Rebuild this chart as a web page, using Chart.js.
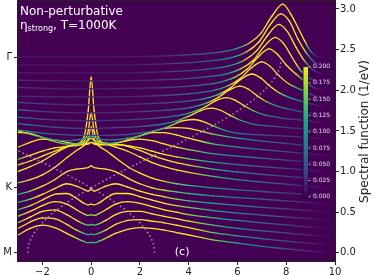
<!DOCTYPE html>
<html>
<head>
<meta charset="utf-8">
<script src="https://cdn.jsdelivr.net/npm/chart.js@4.4.1/dist/chart.umd.min.js"></script>
<style>
  html, body { margin: 0; padding: 0; background: #fff; }
  canvas { display: block; }
</style>
</head>
<body>
<canvas id="chart" width="374" height="275"></canvas>
<script>
// k-path offsets (M -> K -> Gamma), one curve per k point
const kOffsets = [0, 0.1, 0.2, 0.3, 0.4, 0.5, 0.6, 0.7, 0.8, 0.9, 1.0, 1.1, 1.2,
  1.3, 1.4, 1.5, 1.6, 1.7, 1.8, 1.9, 2.0, 2.1, 2.2, 2.3, 2.4];
const kTicks = [0, 0.8, 2.4];
const kLabels = ['M', 'K', 'Γ'];
// bare band energy (dotted), read per k point
const bareBand = [2.6, 2.56, 2.42, 2.2, 1.9, 1.53, 1.08, 0.57, 0, 0.61, 1.25, 1.92, 2.6,
  3.28, 3.95, 4.59, 5.2, 5.77, 6.28, 6.73, 7.1, 7.4, 7.62, 7.76, 7.8];
const energyTicks = [-2, 0, 2, 4, 6, 8, 10];
const specTicks = [0, 0.5, 1, 1.5, 2, 2.5, 3];
const cbarTicks = [0, 0.025, 0.05, 0.075, 0.1, 0.125, 0.15, 0.175, 0.2];

// spectral function above each offset, curves 0..13 on a shared energy grid
const lowGrid = [-3, -2.5, -2, -1.5, -1, -0.6, -0.3, -0.12, 0, 0.12, 0.3, 0.6, 1, 1.5, 2, 2.5, 3, 3.5, 4, 5, 6, 7, 8, 8.5, 9, 9.5, 10];
const lowCurves = [
  [.22, .30, .34, .31, .24, .18, .14, .125, .13, .125, .14, .18, .24, .29, .31, .30, .28, .25, .22, .16, .12, .08, .05, .035, .02, .008, 0],
  [.20, .28, .33, .32, .25, .18, .14, .125, .13, .125, .14, .18, .25, .30, .31, .29, .27, .24, .21, .15, .11, .075, .045, .03, .018, .007, 0],
  [.17, .24, .31, .33, .27, .20, .155, .14, .15, .14, .155, .20, .27, .31, .31, .28, .25, .22, .19, .14, .10, .07, .045, .03, .018, .007, 0],
  [.15, .21, .28, .33, .30, .23, .18, .16, .17, .16, .18, .23, .30, .33, .31, .27, .23, .20, .17, .13, .10, .07, .045, .03, .018, .007, 0],
  [.13, .18, .25, .32, .33, .27, .21, .19, .20, .19, .21, .27, .33, .33, .29, .25, .21, .18, .16, .12, .09, .065, .04, .03, .018, .007, 0],
  [.12, .16, .22, .29, .35, .32, .28, .26, .28, .26, .28, .32, .35, .31, .26, .22, .19, .16, .14, .11, .085, .06, .04, .028, .016, .006, 0],
  [.12, .16, .22, .30, .40, .43, .44, .45, .47, .45, .44, .43, .40, .32, .25, .20, .17, .15, .13, .10, .08, .06, .04, .028, .016, .006, 0],
  [.16, .20, .26, .35, .47, .56, .62, .70, .85, .70, .62, .56, .47, .36, .28, .22, .18, .15, .13, .10, .075, .055, .035, .025, .015, .005, 0],
  [.20, .26, .33, .42, .50, .54, .62, .95, 1.36, .95, .62, .54, .50, .45, .38, .31, .26, .22, .19, .14, .10, .07, .045, .03, .015, .005, 0],
  [.18, .23, .29, .35, .41, .44, .47, .60, .82, .60, .47, .45, .44, .41, .36, .30, .25, .21, .18, .13, .095, .065, .04, .03, .015, .005, 0],
  [.15, .20, .25, .29, .31, .32, .33, .34, .36, .34, .33, .33, .33, .32, .29, .25, .21, .18, .155, .115, .085, .06, .04, .028, .015, .005, 0],
  [.20, .26, .30, .29, .26, .24, .24, .25, .26, .25, .24, .24, .25, .28, .30, .28, .24, .20, .17, .12, .09, .065, .04, .028, .015, .005, 0],
  [.28, .27, .22, .17, .14, .14, .16, .18, .21, .18, .16, .14, .15, .19, .24, .28, .28, .25, .21, .14, .10, .07, .045, .03, .016, .006, 0],
  [.20, .16, .12, .09, .08, .09, .10, .12, .14, .12, .10, .09, .09, .11, .14, .19, .23, .24, .23, .16, .11, .075, .045, .03, .016, .006, 0]
];
// curves 14..24: [energy, spectral] pairs
const highCurves = [
  [[-3, .11], [-1.5, .06], [0, .045], [1, .047], [2, .072], [2.7, .11], [3.2, .157], [3.7, .22], [4.2, .24], [4.6, .214], [5, .162], [5.4, .115], [5.8, .082], [7, .05], [8, .035], [8.5, .025], [9, .015], [9.5, .005], [10, 0]],
  [[-3, .09], [-1.5, .045], [0, .03], [1, .04], [1.95, .053], [2.95, .085], [3.55, .127], [4.05, .188], [4.5, .25], [4.95, .28], [5.3, .254], [5.65, .2], [6.05, .14], [6.55, .09], [7.5, .055], [8.5, .03], [9, .015], [9.5, .005], [10, 0]],
  [[-3, .07], [-1.5, .035], [0, .025], [1.5, .035], [2.55, .054], [3.55, .087], [4.15, .13], [4.65, .19], [5.1, .27], [5.55, .31], [5.9, .279], [6.25, .215], [6.65, .148], [7.15, .093], [8, .05], [8.7, .03], [9.2, .012], [9.6, .003], [10, 0]],
  [[-3, .06], [-1.5, .03], [0, .022], [1.5, .03], [3.1, .055], [4.1, .09], [4.7, .138], [5.2, .21], [5.65, .30], [6.1, .35], [6.45, .312], [6.8, .235], [7.2, .158], [7.7, .098], [8.4, .05], [9, .02], [9.4, .006], [10, 0]],
  [[-3, .05], [-1.5, .028], [0, .02], [1.5, .025], [3.6, .056], [4.6, .094], [5.2, .146], [5.7, .226], [6.15, .337], [6.6, .40], [6.95, .352], [7.3, .259], [7.7, .171], [8.2, .104], [8.7, .06], [9.1, .025], [9.5, .006], [10, 0]],
  [[-3, .025], [-1.5, .02], [0, .018], [2, .025], [4, .057], [5, .096], [5.6, .152], [6.1, .24], [6.55, .37], [7, .45], [7.35, .391], [7.7, .28], [8.1, .18], [8.6, .108], [9, .05], [9.3, .015], [9.6, .003], [10, 0]],
  [[-3, .035], [-1.5, .02], [0, .016], [2, .025], [4.3, .058], [5.3, .10], [5.9, .162], [6.4, .26], [6.85, .41], [7.3, .51], [7.65, .44], [8, .31], [8.4, .2], [8.8, .1], [9.15, .03], [9.45, .006], [10, 0]],
  [[-3, .025], [-1.5, .018], [0, .015], [2, .02], [4.55, .059], [5.55, .102], [6.15, .166], [6.65, .27], [7.1, .44], [7.55, .55], [7.9, .47], [8.25, .3], [8.6, .14], [8.95, .05], [9.3, .012], [9.6, .002], [10, 0]],
  [[-3, .015], [0, .013], [2, .018], [4.7, .058], [5.7, .104], [6.3, .172], [6.8, .29], [7.25, .48], [7.7, .61], [8.05, .52], [8.4, .33], [8.75, .16], [9.1, .05], [9.4, .01], [9.7, .001], [10, 0]],
  [[-3, .013], [0, .012], [2, .016], [4.78, .058], [5.78, .104], [6.38, .174], [6.88, .294], [7.33, .5], [7.78, .64], [8.13, .55], [8.48, .33], [8.8, .17], [9.1, .06], [9.35, .012], [9.7, .001], [10, 0]],
  [[-3, .012], [0, .012], [2, .015], [3.5, .03], [4.86, .055], [5.86, .104], [6.46, .175], [6.96, .3], [7.41, .51], [7.86, .66], [8.2, .53], [8.5, .36], [8.75, .21], [9, .08], [9.2, .025], [9.45, .004], [10, 0]]
];

const CMAX = 0.2;
const CBAR = { e0: 8.69, e1: 8.91, s0: 0.69, s1: 2.29 }; // colorbar box in data units
const VIRIDIS = ['#440154', '#482475', '#414487', '#355f8d', '#2a788e', '#21918c',
  '#22a884', '#44bf70', '#7ad151', '#bddf26', '#fde725'];

function hexRgb(h) {
  return [1, 3, 5].map(k => parseInt(h.slice(k, k + 2), 16));
}
function viridis(t) {
  t = Math.min(1, Math.max(0, t));
  const s = t * 10, k = Math.min(9, Math.floor(s)), f = s - k;
  const a = hexRgb(VIRIDIS[k]), b = hexRgb(VIRIDIS[k + 1]);
  return 'rgb(' + a.map((v, j) => Math.round(v + (b[j] - v) * f)).join(',') + ')';
}

function segGradient(c, off) {
  const p0 = c.p0, p1 = c.p1;
  const a0 = p0.parsed.y - off, a1 = p1.parsed.y - off;
  const g = c.chart.ctx.createLinearGradient(p0.x, p0.y, p1.x, p1.y);
  for (let s = 0; s <= 4; s++) {
    g.addColorStop(s / 4, viridis((a0 + (a1 - a0) * s / 4) / CMAX));
  }
  return g;
}

const datasets = [];
function addCurve(i, pts) {
  const off = kOffsets[i];
  datasets.push({
    data: pts.map(p => ({ x: p[0], y: off + p[1] })),
    order: 100 - i,
    borderWidth: 1.3,
    borderCapStyle: 'round',
    borderColor: VIRIDIS[0],
    pointRadius: 0,
    cubicInterpolationMode: 'monotone',
    segment: { borderColor: c => segGradient(c, off) }
  });
}
lowCurves.forEach((row, i) => addCurve(i, lowGrid.map((x, j) => [x, row[j]])));
highCurves.forEach((pts, j) => addCurve(14 + j, pts));

// dotted bare bands, split at K
function band(sign, from, to) {
  return kOffsets.slice(from, to).map((y, j) => ({ x: sign * bareBand[from + j], y }));
}
[[1, 0, 9], [-1, 0, 9], [1, 8, 25], [-1, 8, 25]].forEach(b => {
  datasets.push({
    data: band(b[0], b[1], b[2]),
    borderColor: 'rgba(214,168,214,0.7)',
    borderWidth: 1.6,
    borderDash: [1.6, 2.6],
    pointRadius: 0,
    tension: 0.3,
    order: -1
  });
});

const decor = {
  id: 'decor',
  beforeDatasetsDraw(chart) {
    const { ctx, chartArea: a } = chart;
    ctx.save();
    ctx.fillStyle = VIRIDIS[0];
    ctx.fillRect(a.left, a.top, a.right - a.left, a.bottom - a.top);
    ctx.restore();
  },
  afterDraw(chart) {
    const { ctx, chartArea: a, scales } = chart;
    const sx = scales.x, sy = scales.y;
    ctx.save();
    // colorbar
    const x0 = sx.getPixelForValue(CBAR.e0), x1 = sx.getPixelForValue(CBAR.e1);
    const yb = sy.getPixelForValue(CBAR.s0), yt = sy.getPixelForValue(CBAR.s1);
    const g = ctx.createLinearGradient(0, yb, 0, yt);
    VIRIDIS.forEach((c, k) => g.addColorStop(k / 10, c));
    ctx.fillStyle = g;
    ctx.fillRect(x0, yt, x1 - x0, yb - yt);
    ctx.strokeStyle = 'rgba(20,0,30,0.9)';
    ctx.lineWidth = 0.8;
    ctx.strokeRect(x0, yt, x1 - x0, yb - yt);
    ctx.font = '6px "DejaVu Sans"';
    ctx.fillStyle = '#e4d8ee';
    ctx.strokeStyle = '#e4d8ee';
    ctx.textBaseline = 'middle';
    ctx.textAlign = 'left';
    cbarTicks.forEach(v => {
      const y = yb - (v / CMAX) * (yb - yt);
      ctx.beginPath();
      ctx.moveTo(x1, y); ctx.lineTo(x1 + 2, y);
      ctx.stroke();
      ctx.fillText(v.toFixed(3), x1 + 4.5, y);
    });

    // annotations
    ctx.fillStyle = '#ffffff';
    ctx.textBaseline = 'alphabetic';
    ctx.font = '12px "DejaVu Sans"';
    ctx.fillText('Non-perturbative', a.left + 2, a.top + 15);
    let tx = a.left + 2;
    ctx.fillText('η', tx, a.top + 28.5);
    tx += ctx.measureText('η').width;
    ctx.font = '8px "DejaVu Sans"';
    ctx.fillText('strong', tx, a.top + 31);
    tx += ctx.measureText('strong').width;
    ctx.font = '12px "DejaVu Sans"';
    ctx.fillText(', T=1000K', tx, a.top + 28.5);
    ctx.font = '11px "DejaVu Sans"';
    ctx.fillText('(c)', sx.getPixelForValue(3.43), sy.getPixelForValue(-0.025));

    // frame
    ctx.strokeStyle = '#222';
    ctx.lineWidth = 1;
    ctx.strokeRect(a.left - 0.5, a.top + 0.5, a.right - a.left + 1, a.bottom - a.top);

    // right axis title
    ctx.fillStyle = '#222';
    ctx.font = '12px "DejaVu Sans"';
    ctx.translate(chart.width - 9.5, (a.top + a.bottom) / 2 + 1);
    ctx.rotate(-Math.PI / 2);
    ctx.textAlign = 'center';
    ctx.textBaseline = 'middle';
    ctx.fillText('Spectral function (1/eV)', 0, 0);
    ctx.restore();
  }
};

Chart.defaults.font.family = '"DejaVu Sans"';
Chart.defaults.color = '#222';

const tickGrid = { drawOnChartArea: false, tickLength: 4, color: '#222' };

new Chart(document.getElementById('chart'), {
  type: 'line',
  data: { datasets },
  options: {
    responsive: false,
    animation: false,
    devicePixelRatio: 1,
    layout: { padding: 0 },
    plugins: { legend: { display: false }, tooltip: { enabled: false } },
    scales: {
      x: {
        type: 'linear', min: -3, max: 10,
        afterBuildTicks: s => { s.ticks = energyTicks.map(v => ({ value: v })); },
        afterFit: s => { s.height = 14; },
        grid: tickGrid,
        border: { display: false },
        ticks: { font: { size: 10 }, padding: 1, maxRotation: 0, autoSkip: false,
          callback: v => String(v).replace('-', '\u2212') }
      },
      y: {
        type: 'linear', position: 'left', min: -0.1, max: 3.11,
        afterBuildTicks: s => { s.ticks = kTicks.map(v => ({ value: v })); },
        afterFit: s => { s.width = 18; s.paddingTop = 0; s.paddingBottom = 0; },
        grid: tickGrid,
        border: { display: false },
        ticks: { font: { size: 10 }, padding: 2, autoSkip: false,
          callback: (v, i) => kLabels[i] }
      },
      y2: {
        type: 'linear', position: 'right', min: -0.1, max: 3.11,
        afterBuildTicks: s => { s.ticks = specTicks.map(v => ({ value: v })); },
        afterFit: s => { s.width = 39; s.paddingTop = 0; s.paddingBottom = 0; },
        grid: tickGrid,
        border: { display: false },
        ticks: { font: { size: 10 }, padding: 1, autoSkip: false,
          callback: v => v.toFixed(1) }
      }
    }
  },
  plugins: [decor]
});
</script>
</body>
</html>
